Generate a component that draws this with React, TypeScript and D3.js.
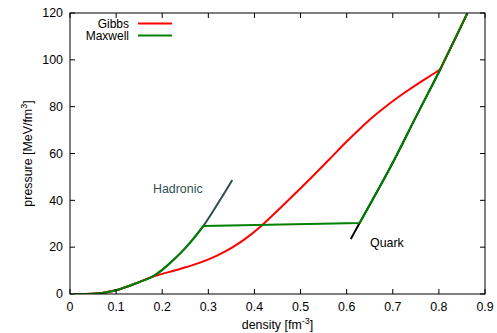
import React from "react";
import * as d3 from "d3";

const hadronicX = [0.01, 0.05, 0.1, 0.15, 0.18, 0.2, 0.224, 0.25, 0.289, 0.325, 0.352];
const hadronicP = [0, 0.15, 1.6, 5.1, 7.5, 10.3, 14.5, 19.6, 29.0, 40.0, 48.7];

const quarkX = [0.609, 0.628, 0.703, 0.745, 0.803, 0.862];
const quarkP = [23.5, 30.3, 57.2, 73.6, 96.0, 120];

const gibbsMixedX = [0.18, 0.2, 0.24, 0.282, 0.32, 0.354, 0.385, 0.416, 0.455, 0.495, 0.528, 0.56, 0.6, 0.63, 0.651, 0.687, 0.723, 0.759, 0.795, 0.803];
const gibbsMixedP = [7.5, 8.6, 10.8, 13.4, 16.5, 20.1, 24.3, 29.3, 36.5, 44.2, 50.6, 57.0, 65.1, 70.8, 74.6, 80.4, 85.6, 90.4, 94.9, 96.0];

const maxwellPlateauX = [0.289, 0.628];
const maxwellPlateauP = [29.0, 30.3];

const xTicks = [0, 0.1, 0.2, 0.3, 0.4, 0.5, 0.6, 0.7, 0.8, 0.9];
const yTicks = [0, 20, 40, 60, 80, 100, 120];

const legendNames = ["Gibbs", "Maxwell"];
const legendColors = ["#ff0000", "#008000"];

export default function App() {
  const W = 497, H = 333;
  const L = 70, R = 485, T = 13, B = 294;
  const x = d3.scaleLinear().domain([0, 0.9]).range([L, R]);
  const y = d3.scaleLinear().domain([0, 120]).range([B, T]);
  const seg = (xs: number[], ps: number[], lo = -1, hi = 2, curve: any = d3.curveMonotoneX) => {
    const pts: [number, number][] = xs.map((v, i) => [v, ps[i]] as [number, number]).filter((d) => d[0] >= lo - 1e-9 && d[0] <= hi + 1e-9);
    return d3.line<[number, number]>().x((d) => x(d[0])).y((d) => y(d[1])).curve(curve)(pts) || "";
  };
  const gStart = gibbsMixedX[0], gEnd = gibbsMixedX[gibbsMixedX.length - 1];
  const mStart = maxwellPlateauX[0], mEnd = maxwellPlateauX[1];
  const gibbsPath =
    seg(hadronicX, hadronicP, -1, gStart) + seg(gibbsMixedX, gibbsMixedP) + seg(quarkX, quarkP, gEnd, 2);
  const maxwellPath =
    seg(hadronicX, hadronicP, -1, mStart) +
    seg(maxwellPlateauX, maxwellPlateauP, -1, 2, d3.curveLinear) +
    seg(quarkX, quarkP, mEnd, 2);
  const font = "'Liberation Sans', Arial, sans-serif";
  const fs = 12.4;
  return (
    <svg width={W} height={H} style={{ position: "absolute", left: 0, top: 0 }} fontFamily={font}>
      <defs>
        <clipPath id="plot">
          <rect x={L} y={T} width={R - L} height={B - T} />
        </clipPath>
      </defs>
      <rect x={0} y={0} width={W} height={H} fill="#fff" />
      <g clipPath="url(#plot)" fill="none" strokeWidth={2} strokeLinejoin="round" strokeLinecap="butt">
        <path d={seg(hadronicX, hadronicP)} stroke="#2f4f4f" />
        <path d={seg(quarkX, quarkP)} stroke="#000" />
        <path d={gibbsPath} stroke="#ff0000" />
        <path d={maxwellPath} stroke="#008000" />
      </g>
      <rect x={L} y={T} width={R - L} height={B - T} fill="none" stroke="#000" strokeWidth={1} />
      {xTicks.map((t) => (
        <g key={"x" + t}>
          <line x1={x(t)} x2={x(t)} y1={B} y2={B - 5} stroke="#000" />
          <line x1={x(t)} x2={x(t)} y1={T} y2={T + 5} stroke="#000" />
          <text x={x(t)} y={311} textAnchor="middle" fontSize={fs} fill="#000">{t === 0 ? "0" : t.toFixed(1)}</text>
        </g>
      ))}
      {yTicks.map((t) => (
        <g key={"y" + t}>
          <line x1={L} x2={L + 5} y1={y(t)} y2={y(t)} stroke="#000" />
          <line x1={R} x2={R - 5} y1={y(t)} y2={y(t)} stroke="#000" />
          <text x={63} y={y(t) + 4.3} textAnchor="end" fontSize={fs} fill="#000">{t}</text>
        </g>
      ))}
      <text x={(L + R) / 2} y={329} textAnchor="middle" fontSize={fs} fill="#000">
        density [fm<tspan dy={-5} fontSize={9}>-3</tspan><tspan dy={5}>]</tspan>
      </text>
      <text transform={`translate(32,${(T + B) / 2}) rotate(-90)`} textAnchor="middle" fontSize={fs} fill="#000">
        pressure [MeV/fm<tspan dy={-5} fontSize={9}>3</tspan><tspan dy={5}>]</tspan>
      </text>
      {legendNames.map((n, i) => (
        <g key={n}>
          <text x={129} y={27.5 + i * 12} textAnchor="end" fontSize={12} fill="#000">{n}</text>
          <line x1={138} x2={172} y1={23.5 + i * 12} y2={23.5 + i * 12} stroke={legendColors[i]} strokeWidth={2} />
        </g>
      ))}
      <text x={153} y={192.5} fontSize={fs} fill="#2f4f4f">Hadronic</text>
      <text x={370} y={246.5} fontSize={fs} fill="#000">Quark</text>
    </svg>
  );
}
